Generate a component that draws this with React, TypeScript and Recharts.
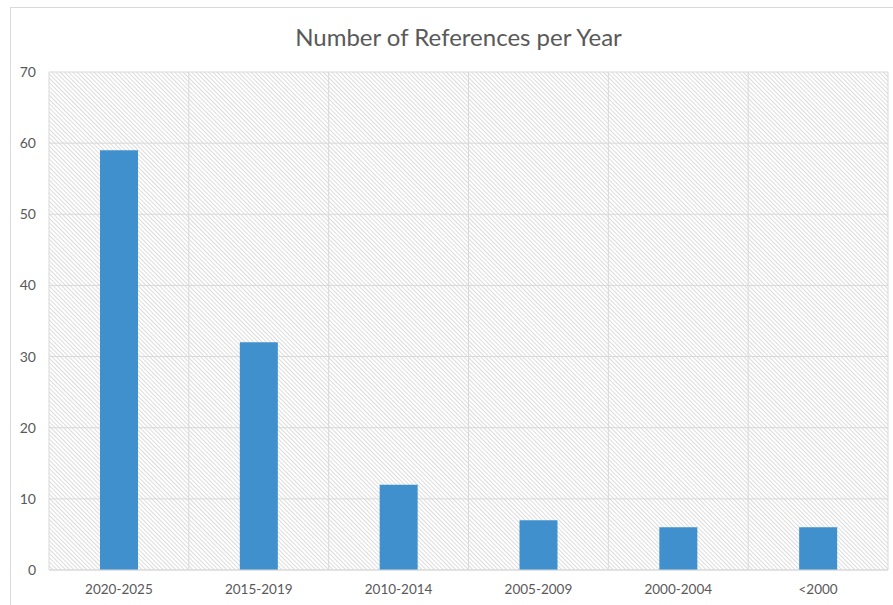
import { BarChart, Bar, XAxis, YAxis, CartesianGrid } from "recharts"

const periods = ["2020-2025", "2015-2019", "2010-2014", "2005-2009", "2000-2004", "<2000"]
const referenceCounts = [59, 32, 12, 7, 6, 6]
const yTicks = [0, 10, 20, 30, 40, 50, 60, 70]

const chartData = periods.map((period, i) => ({ period, count: referenceCounts[i] }))

const TEXT = "#595959"
const GRID = "#d9d9d9"
const BAR = "#4190ce"
const FONT = "Lato, 'Open Sans', sans-serif"

// vertical grid lines sit on category boundaries, not category centres
const boundaryLines = ({ offset }: any) => {
  const step = offset.width / periods.length
  return Array.from({ length: periods.length + 1 }, (_, i) => offset.left + i * step)
}

export default function App() {
  return (
    <div style={{ position: "absolute", left: 0, top: 0, width: 893, height: 605, background: "#fff", overflow: "hidden", fontFamily: FONT }}>
      <svg width={0} height={0} style={{ position: "absolute" }}>
        <defs>
          <pattern id="hatch" patternUnits="userSpaceOnUse" width={3} height={3} patternTransform="rotate(-45)">
            <rect width={3} height={3} fill="#ffffff" />
            <line x1={0.5} y1={0} x2={0.5} y2={3} stroke="#dcdcdc" strokeWidth={1} />
          </pattern>
        </defs>
      </svg>
      <div style={{ position: "absolute", left: 10, top: 7, width: 900, height: 620, border: `1px solid ${GRID}` }} />
      <div
        style={{
          position: "absolute",
          left: 0,
          top: 21,
          width: 917,
          textAlign: "center",
          fontSize: 24,
          color: TEXT,
          lineHeight: "32px",
        }}
      >
        Number of References per Year
      </div>
      <div style={{ position: "absolute", left: 0, top: 0 }}>
        <BarChart width={893} height={605} data={chartData} margin={{ top: 72, right: 5, bottom: 5, left: 0 }} barSize={38}>
          <CartesianGrid
            stroke={GRID}
            strokeWidth={1}
            fill="url(#hatch)"
            fillOpacity={1}
            verticalCoordinatesGenerator={boundaryLines}
          />
          <XAxis
            dataKey="period"
            height={30}
            tickLine={false}
            axisLine={{ stroke: GRID }}
            tickSize={0}
            tickMargin={14}
            tick={{ fill: TEXT, fontSize: 13.5, fontFamily: FONT }}
            interval={0}
          />
          <YAxis
            width={49}
            domain={[0, 70]}
            ticks={yTicks}
            tickLine={false}
            axisLine={false}
            tickSize={0}
            tickMargin={13}
            tick={{ fill: TEXT, fontSize: 14, fontFamily: FONT }}
          />
          <Bar dataKey="count" fill={BAR} isAnimationActive={false} />
        </BarChart>
      </div>
    </div>
  )
}
